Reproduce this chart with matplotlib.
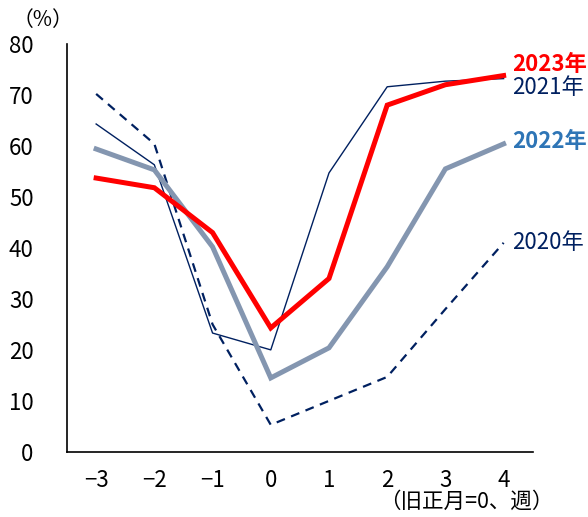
import matplotlib
matplotlib.use('Agg')
import matplotlib.pyplot as plt

plt.rcParams['font.family'] = ['Noto Sans CJK JP', 'DejaVu Sans']

weeks = [-3, -2, -1, 0, 1, 2, 3, 4]
y2020 = [70.2, 60.4, 25.0, 5.3, 10.0, 14.7, 28.0, 41.0]
y2021 = [64.3, 56.3, 23.3, 20.0, 54.7, 71.6, 72.7, 73.2]
y2022 = [59.4, 55.3, 40.2, 14.5, 20.4, 36.3, 55.5, 60.4]
y2023 = [53.7, 51.8, 43.0, 24.3, 34.0, 68.0, 72.0, 73.8]

navy = '#002060'
grey = '#8496B0'
red = '#FF0000'
blue = '#2E75B6'

fig = plt.figure(figsize=(5.88, 5.17), dpi=100)
ax = fig.add_axes([0.114, 0.126, 0.792, 0.789])

ax.plot(weeks, y2020, color=navy, lw=1.6, ls=(0, (4, 3)))
ax.plot(weeks, y2021, color=navy, lw=1.0)
ax.plot(weeks, y2022, color=grey, lw=3.6, solid_joinstyle='miter')
ax.plot(weeks, y2023, color=red, lw=3.6, solid_joinstyle='miter')

ax.set_xlim(-3.5, 4.5)
ax.set_ylim(0, 80)
ax.set_xticks(weeks)
ax.set_xticklabels(['−3', '−2', '−1', '0', '1', '2', '3', '4'])
ax.set_yticks(range(0, 81, 10))
ax.tick_params(length=0, labelsize=16, pad=12)
ax.tick_params(axis='y', pad=24)
for s in ['top', 'right']:
    ax.spines[s].set_visible(False)
for s in ['left', 'bottom']:
    ax.spines[s].set_linewidth(1.2)

# series labels at the right end
lbl_x = 4.15
ax.text(lbl_x, 75.9, '2023年', color=red, fontsize=16, fontweight='bold',
        va='center', ha='left', clip_on=False)
ax.text(lbl_x, 71.4, '2021年', color=navy, fontsize=16,
        va='center', ha='left', clip_on=False)
ax.text(lbl_x, 60.8, '2022年', color=blue, fontsize=16, fontweight='bold',
        va='center', ha='left', clip_on=False)
ax.text(lbl_x, 41.0, '2020年', color=navy, fontsize=16,
        va='center', ha='left', clip_on=False)

fig.text(0.022, 0.962, '（%）', fontsize=15, va='center', ha='left')
fig.text(0.645, 0.030, '（旧正月=0、週）', fontsize=15.5, va='center', ha='left')

fig.savefig('out.png', dpi=100)
